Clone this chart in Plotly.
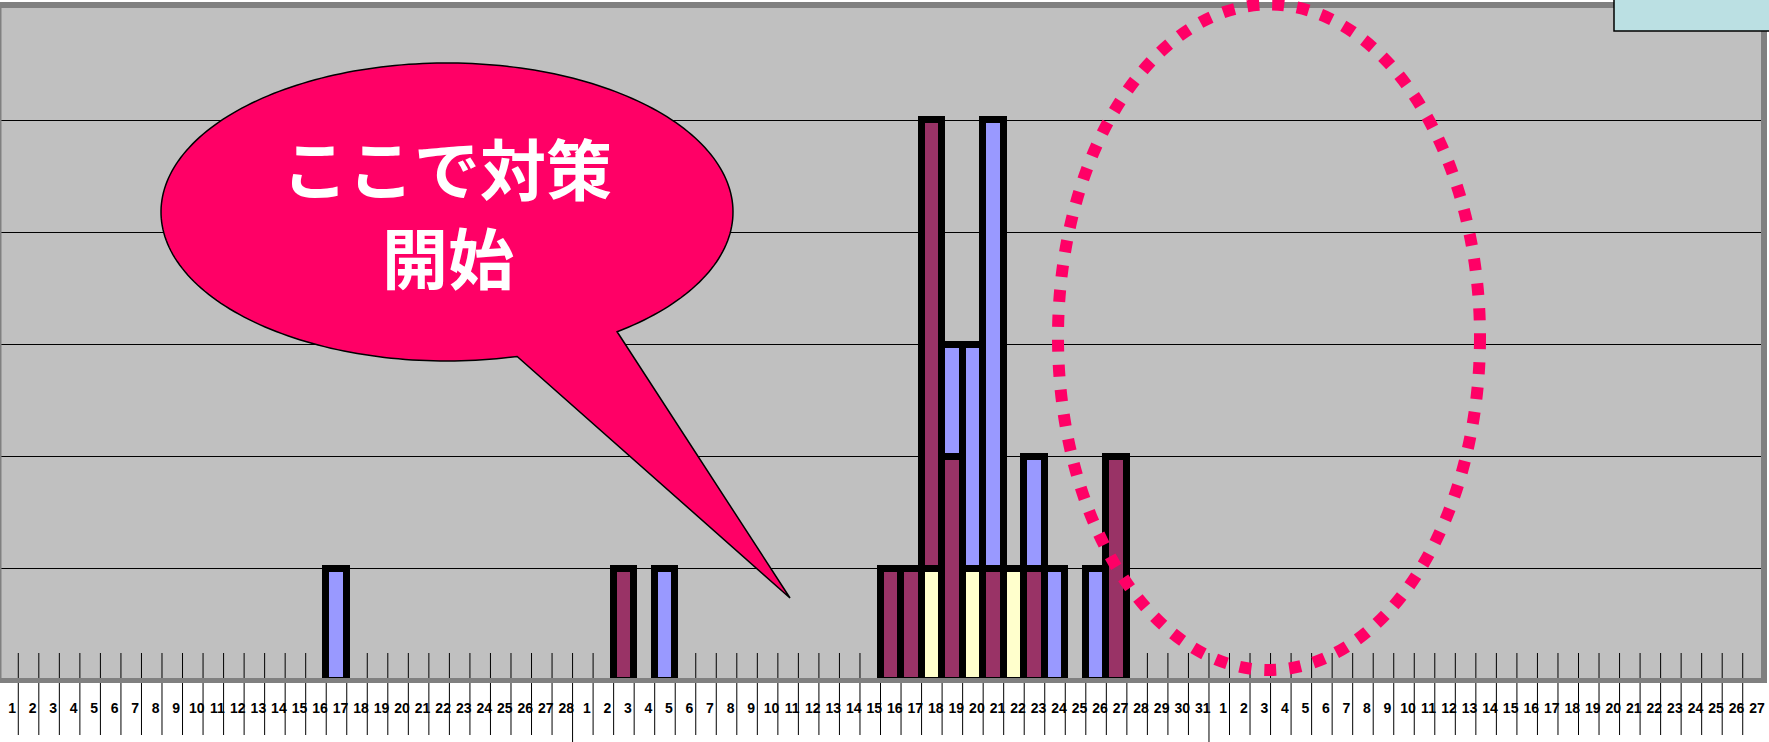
import numpy as np
import plotly.graph_objects as go

# ---- calendar on the x axis: 1-28 Feb, 1-31 Mar, 1-27 Apr ----
feb_days = list(range(1, 29))
mar_days = list(range(1, 32))
apr_days = list(range(1, 28))
month_days = [(2, feb_days), (3, mar_days), (4, apr_days)]

# ---- daily counts, only for days that had cases ----
case_dates = ["2/17", "3/3", "3/5", "3/16", "3/17", "3/18", "3/19",
              "3/20", "3/21", "3/22", "3/23", "3/24", "3/26", "3/27"]
counts_yellow = [0, 0, 0, 0, 0, 1, 0, 1, 0, 1, 0, 0, 0, 0]
counts_maroon = [0, 1, 0, 1, 1, 4, 2, 0, 1, 0, 1, 0, 0, 2]
counts_blue = [1, 0, 1, 0, 0, 0, 1, 2, 4, 0, 1, 1, 1, 0]

series = [
    ("series 1", counts_yellow, "#FFFFCC"),
    ("series 2", counts_maroon, "#993366"),
    ("series 3", counts_blue, "#9999FF"),
]

bubble_lines = ["ここで対策", "開始"]

# ---- axis keys ----
axis_keys, tick_text, month_breaks = [], [], []
for m, days in month_days:
    if axis_keys:
        month_breaks.append(len(axis_keys))
    for d in days:
        axis_keys.append(f"{m}/{d}")
        tick_text.append(str(d))
pos = {k: i for i, k in enumerate(axis_keys)}
x_idx = list(range(len(axis_keys)))

# ---- figure geometry (pixels) ----
FIG_W, FIG_H = 1769, 742
PL, PR, PT, PB = 0, 1761, 8, 681


def px(x):
    return (x - PL) / (PR - PL)


def py(y):
    return (PB - y) / (PB - PT)


fig = go.Figure()
for name, counts, color in series:
    y = [None] * len(axis_keys)
    for d, c in zip(case_dates, counts):
        if c:
            y[pos[d]] = c
    fig.add_trace(go.Bar(
        x=x_idx, y=y, name=name, width=1,
        marker=dict(color=color, line=dict(color="black", width=7)),
        showlegend=False,
    ))

shapes = []
# category separators running through the date row
for k in range(1, len(axis_keys)):
    long_line = k in month_breaks
    shapes.append(dict(
        type="line", xref="x", yref="paper", layer="between",
        x0=k - 0.5, x1=k - 0.5, y0=py(653), y1=py(742 if long_line else 735),
        line=dict(color="black", width=1),
    ))

# frame of the plot area
frame = "#808080"
shapes += [
    dict(type="rect", xref="paper", yref="paper", layer="above",
         x0=px(0), x1=px(1769), y0=py(8), y1=py(2),
         fillcolor=frame, line=dict(width=0)),
    dict(type="rect", xref="paper", yref="paper", layer="above",
         x0=px(1761), x1=px(1767), y0=py(683), y1=py(2),
         fillcolor=frame, line=dict(width=0)),
    dict(type="rect", xref="paper", yref="paper", layer="above",
         x0=px(0), x1=px(1767), y0=py(683), y1=py(678),
         fillcolor=frame, line=dict(width=0)),
    dict(type="rect", xref="paper", yref="paper", layer="above",
         x0=px(0), x1=px(1.5), y0=py(681), y1=py(8),
         fillcolor=frame, line=dict(width=0)),
    # legend box corner
    dict(type="rect", xref="paper", yref="paper", layer="above",
         x0=px(1614), x1=px(1775), y0=py(31), y1=py(-5),
         fillcolor="#BBE0E3", line=dict(color="black", width=1.5)),
]

# speech bubble: ellipse with a tail pointing down-right
cx, cy, rx, ry = 447, 212, 286, 149
t_start = np.deg2rad(53.5)
t_end = np.deg2rad(75.8 - 360)
ts = np.linspace(t_start, t_end, 240)
pts = [(cx + rx * np.cos(t), cy + ry * np.sin(t)) for t in ts]
pts.append((790, 598))
path = "M " + " L ".join(f"{px(x):.5f},{py(y):.5f}" for x, y in pts) + " Z"
shapes.append(dict(type="path", xref="paper", yref="paper", layer="above",
                   path=path, fillcolor="#FF0066",
                   line=dict(color="black", width=1.5)))

# dotted ellipse on the right
shapes.append(dict(type="circle", xref="paper", yref="paper", layer="above",
                   x0=px(1058), x1=px(1480), y0=py(670), y1=py(4.5),
                   line=dict(color="#FF0066", width=12, dash="12px,13px")))

annotations = [
    dict(xref="paper", yref="paper", x=px(447.5), y=py(166),
         text=bubble_lines[0], showarrow=False, xanchor="center", yanchor="middle",
         font=dict(family="Noto Sans CJK JP", size=66, color="white", weight="bold")),
    dict(xref="paper", yref="paper", x=px(448), y=py(255),
         text=bubble_lines[1], showarrow=False, xanchor="center", yanchor="middle",
         font=dict(family="Noto Sans CJK JP", size=66, color="white", weight="bold")),
]

fig.update_layout(
    width=FIG_W, height=FIG_H,
    margin=dict(l=PL, r=FIG_W - PR, t=PT, b=FIG_H - PB, autoexpand=False),
    paper_bgcolor="white", plot_bgcolor="#C0C0C0",
    barmode="stack", bargap=0,
    shapes=shapes, annotations=annotations,
    xaxis=dict(
        range=[-0.391, 85.39], tickmode="array", tickvals=x_idx, ticktext=tick_text,
        showgrid=False, zeroline=False, showline=False, ticks="",
        tickangle=0, ticklabelshift=4, ticklabelstandoff=17,
        tickfont=dict(family="Liberation Sans", size=14, color="black", weight="bold"),
    ),
    yaxis=dict(
        range=[0, 6], dtick=1, showticklabels=False, zeroline=False,
        showgrid=True, gridcolor="black", gridwidth=1, showline=False,
    ),
)

fig.write_html("out.html")
